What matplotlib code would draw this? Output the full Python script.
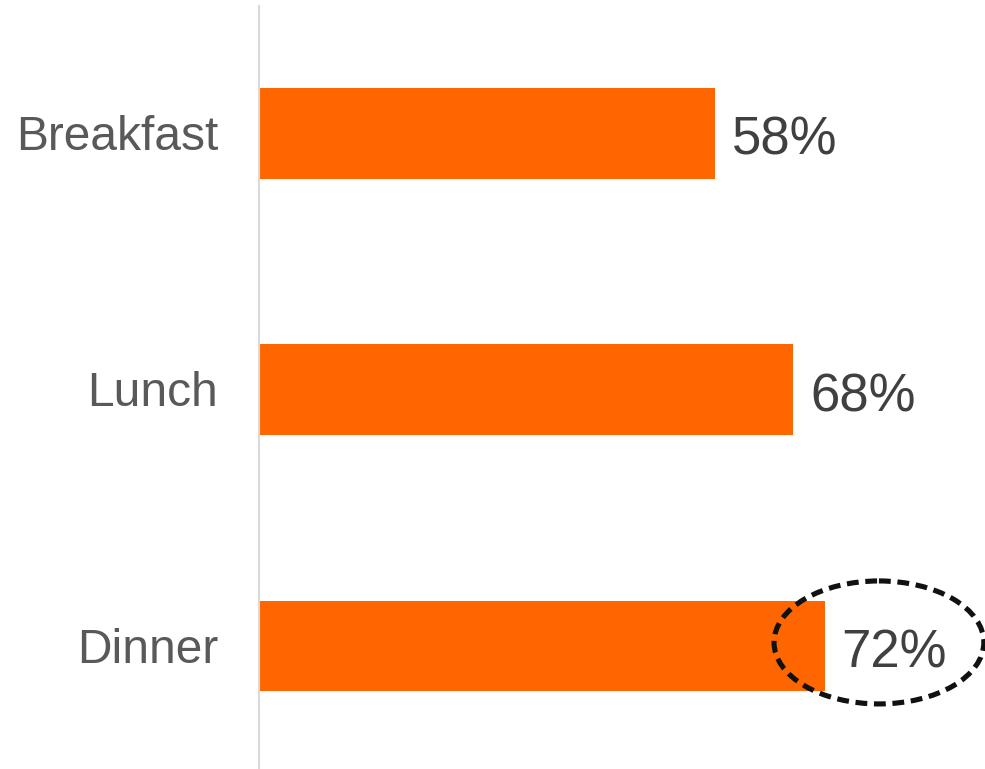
import matplotlib
matplotlib.use("Agg")
import matplotlib.pyplot as plt
from matplotlib.patches import Ellipse

# data
meals = ["Breakfast", "Lunch", "Dinner"]
shares = [58, 68, 72]
highlight = "Dinner"

plt.rcParams["font.family"] = ["Liberation Sans", "DejaVu Sans"]

fig = plt.figure(figsize=(9.85, 7.69), dpi=100)
ax = fig.add_axes([259 / 985, 0, 1 - 259 / 985, (769 - 6) / 769])

pos = list(range(len(meals)))
ax.barh(pos, shares, height=0.355, color="#ff6600", zorder=2)

# value labels, baseline a bit below bar centre
for p, v in zip(pos, shares):
    ax.annotate(f"{v}%", xy=(v, p), xytext=(12.2, -15.3),
                textcoords="offset points", va="baseline", ha="left",
                fontsize=38, color="#404040", zorder=4)

# category labels drawn as text so the baseline can be placed
for p, name in zip(pos, meals):
    ax.annotate(name, xy=(0, p), xycoords=ax.get_yaxis_transform(),
                xytext=(-29.5, -11.9), textcoords="offset points",
                va="baseline", ha="right", fontsize=34.5, color="#595959")

# dashed ring around the highlighted value
i = meals.index(highlight)
ring = Ellipse((shares[i] + 6.9, i - 0.014), 26.7, 0.48, fill=False,
               edgecolor="#111111", lw=3.7, linestyle=(0, (2.3, 1.3)),
               zorder=5, clip_on=False)
ax.add_patch(ring)

ax.set_xlim(0, 92.4)
ax.set_ylim(2.48, -0.498)
ax.set_yticks([])
ax.set_xticks([])

for s in ["top", "right", "bottom"]:
    ax.spines[s].set_visible(False)
ax.spines["left"].set_color("#d9d9d9")
ax.spines["left"].set_linewidth(1.5)

fig.savefig("out.png", dpi=100)
